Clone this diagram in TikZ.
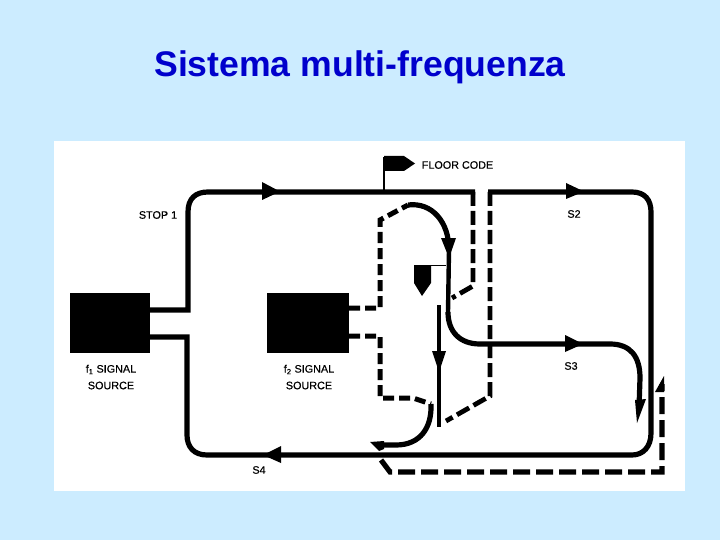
\documentclass[tikz,border=0pt]{standalone}
\usepackage{fontspec}
\setmainfont{Liberation Sans}
\definecolor{bgblue}{RGB}{204,236,255}
\definecolor{titleblue}{RGB}{0,0,204}
\tikzset{
 wire/.style={line width=5.2pt,black},
 dashwire/.style={line width=5pt,black,dash pattern=on 11pt off 5pt},
 vdash/.style={line width=4.8pt,black,dash pattern=on 14pt off 5pt},
 srcbox/.style={fill=black,draw=none,minimum height=60pt,inner sep=0pt},
 lab/.style={font=\fontsize{10.8}{12}\selectfont\addfontfeatures{FakeBold=0.5},text=black,inner sep=0pt},
 head/.style={fill=black,draw=none}
}
\begin{document}
\begin{tikzpicture}[x=1pt,y=-1pt]
\useasboundingbox (0,0) rectangle (720,540);
\fill[bgblue] (0,0) rectangle (720,540);
\fill[white] (54,141) rectangle (685,491);
\node[font=\fontsize{35.6}{40}\selectfont\bfseries,text=titleblue,inner sep=0pt] (title) at (360,67.5) {Sistema multi-frequenza};
% sources
\node[srcbox,minimum width=80pt] (f1) at (110,323) {};
\node[srcbox,minimum width=82pt] (f2) at (308,323) {};
% coordinates
\coordinate (a1) at (150,310); \coordinate (a2) at (188,310);
\coordinate (b1) at (150,337); \coordinate (b2) at (187,337);
\coordinate (t1) at (475,192); \coordinate (t2) at (488,192);
% f1 loop
\draw[wire] (a1) -- (a2) -- (188,212) .. controls (188,198) and (196,192) .. (208,192) -- (t1);
\draw[wire] (t2) -- (632,192) .. controls (645,192) and (651,200) .. (651,212) -- (651,433) .. controls (651,447) and (643,455) .. (632,455) -- (207,455) .. controls (194,455) and (187,447) .. (187,435) -- (b2) -- (b1);
% f2 upper dashed
\coordinate (c1) at (349,308); \coordinate (c2) at (380,308); \coordinate (c3) at (380,220); \coordinate (c4) at (408,205);
\draw[dashwire] (c1) -- (c2) -- (c3) -- (c4);
\draw[wire] (c4) .. controls (432,202) and (449,222) .. (449,250);
\draw[line width=4.4pt] (449,250) -- (448,312);
\draw[wire] (448,312) .. controls (448,332) and (460,344) .. (480,344) -- (610,344)
 .. controls (630,344) and (640,356) .. (640,378) -- (639,408);
% f2 lower dashed
\coordinate (d1) at (349,336); \coordinate (d2) at (380,336); \coordinate (d3) at (380,398); \coordinate (d4) at (413,398); \coordinate (d5) at (431,404);
\draw[dashwire] (d1) -- (d2) -- (d3) -- (d4) -- (d5);
\draw[wire] (d5) .. controls (432,428) and (420,445) .. (396,445) -- (376,445);
% centre vertical
\draw[line width=4.4pt] (439,305) -- (439,427);
% dashed from top
\draw[vdash] (473,192) -- (473,286) -- (452,298);
\draw[vdash] (490,192) -- (490,396) -- (446,421);
% return dashed
\coordinate (e1) at (381,460); \coordinate (e2) at (390,472); \coordinate (e3) at (662,472); \coordinate (e4) at (662,384);
\draw[line width=5.2pt,dash pattern=on 17pt off 6pt] (e1) -- (e2) -- (e3) -- (e4);
% arrowheads
\fill[head] (262,182) -- (280,191.5) -- (262,200) -- cycle;
\fill[head] (566,183) -- (584,191.5) -- (566,199) -- cycle;
\fill[head] (565,335) -- (583,344) -- (565,352) -- cycle;
\fill[head] (281,446) -- (263,455) -- (281,463) -- cycle;
\fill[head] (441,238) -- (456,238) -- (449,258) -- cycle;
\fill[head] (432,351) -- (446,351) -- (439,372) -- cycle;
\fill[head] (646,399) -- (637,423) -- (635,400) -- cycle;
\fill[head] (370,442) -- (384,441) -- (384,449) -- (379,451) -- cycle;
\fill[head] (664,376) -- (664,392) -- (655,392) -- cycle;
% flag
\draw[line width=1.6pt] (384,191) -- (384,157);
\fill[head] (384,156) -- (404,156) -- (415,163.5) -- (404,171) -- (384,171) -- cycle;
% detector
\fill[head] (414,265) -- (431,265) -- (431,283) -- (422,296) -- (414,283) -- cycle;
\draw[line width=1.4pt] (431,265.5) -- (446,265.5);
% labels
\node[lab] (floor) at (457.5,165) {FLOOR CODE};
\node[lab] (stop) at (158,215) {STOP 1};
\node[lab] (s2) at (574,214) {S2};
\node[lab] (s3) at (571,366) {S3};
\node[lab] (s4) at (259,470) {S4};
\node[lab] (f1a) at (111,369.5) {f\textsubscript{1} SIGNAL};
\node[lab] (f1b) at (111,385.5) {SOURCE};
\node[lab] (f2a) at (309,369.5) {f\textsubscript{2} SIGNAL};
\node[lab] (f2b) at (309,385.5) {SOURCE};
\end{tikzpicture}
\end{document}
